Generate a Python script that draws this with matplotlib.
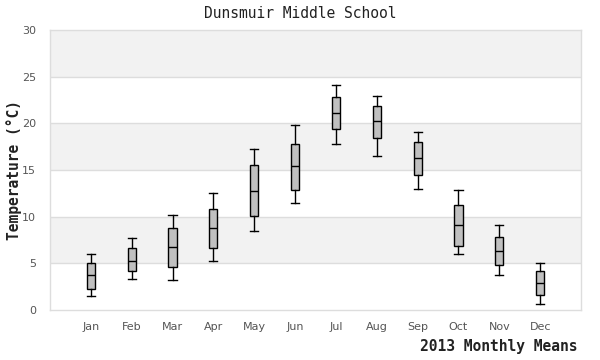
import matplotlib
matplotlib.use("Agg")
import matplotlib.pyplot as plt

months = ["Jan", "Feb", "Mar", "Apr", "May", "Jun", "Jul", "Aug", "Sep", "Oct", "Nov", "Dec"]
low = [1.5, 3.3, 3.2, 5.2, 8.5, 11.5, 17.75, 16.5, 13.0, 6.0, 3.7, 0.6]
q1 = [2.3, 4.15, 4.6, 6.6, 10.1, 12.9, 19.35, 18.4, 14.5, 6.9, 4.8, 1.6]
median = [3.75, 5.3, 6.75, 8.8, 12.7, 15.4, 21.1, 20.2, 16.25, 9.1, 6.3, 2.85]
q3 = [5.0, 6.6, 8.8, 10.8, 15.5, 17.75, 22.8, 21.9, 17.95, 11.2, 7.8, 4.15]
high = [6.0, 7.7, 10.2, 12.5, 17.3, 19.8, 24.1, 22.9, 19.1, 12.9, 9.1, 5.0]

stats = []
for i, m in enumerate(months):
    stats.append({"label": m, "whislo": low[i], "q1": q1[i], "med": median[i],
                  "q3": q3[i], "whishi": high[i], "fliers": []})

fig = plt.figure(figsize=(6, 3.6), dpi=100)
ax = fig.add_axes([50/600, 1 - 310/360, 531/600, 280/360])

# alternating bands
for lo in (5, 15, 25):
    ax.axhspan(lo, lo + 5, color="#f2f2f2", zorder=0, lw=0)
for y in range(5, 30, 5):
    ax.axhline(y, color="#dddddd", lw=1, zorder=0.5)

ax.bxp(stats, positions=range(len(months)), widths=0.2, patch_artist=True,
       showfliers=False,
       boxprops=dict(facecolor="#c0c0c0", edgecolor="black", linewidth=1),
       medianprops=dict(color="black", linewidth=1),
       whiskerprops=dict(color="black", linewidth=1),
       capprops=dict(color="black", linewidth=1),
       capwidths=0.2)

ax.set_xlim(-1.0, 12.0)
ax.set_ylim(0, 30)
ax.set_yticks(range(0, 31, 5))
ax.set_xticks(range(len(months)))
ax.set_xticklabels(months)
ax.tick_params(length=0, labelsize=8, colors="#555555", pad=9)
ax.tick_params(axis="y", pad=10)
for s in ax.spines.values():
    s.set_color("#dddddd")
    s.set_linewidth(1)

mono = "DejaVu Sans Mono"
fig.text(0.5, 1 - 14/360, "Dunsmuir Middle School", ha="center", va="center",
         family=mono, fontsize=10.5, color="#222222")
fig.text(14/600, 1 - 170/360, "Temperature (°C)", rotation=90, ha="center", va="center",
         family=mono, fontsize=10.5, fontweight="semibold", color="#222222")
fig.text(578/600, 1 - 347/360, "2013 Monthly Means", ha="right", va="center",
         family=mono, fontsize=10.5, fontweight="semibold", color="#222222")

fig.savefig("out.png", dpi=100)
